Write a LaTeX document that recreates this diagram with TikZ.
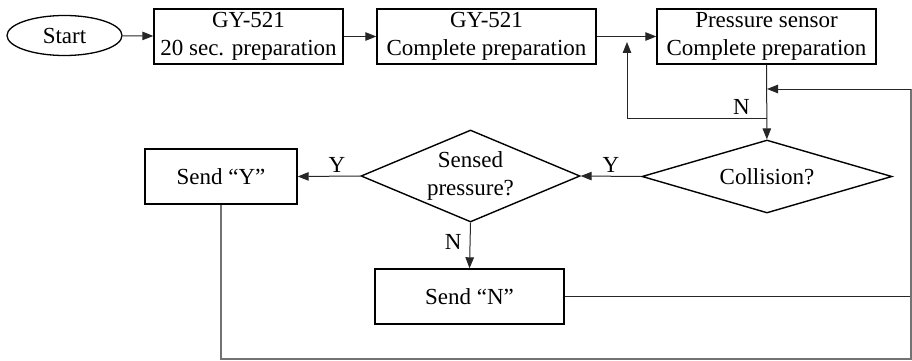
\documentclass[tikz,border=0pt]{standalone}
\usepackage{fontspec}
\setmainfont{Liberation Serif}
\usetikzlibrary{shapes.geometric,arrows.meta}
\tikzset{
  every node/.style={font=\fontsize{23}{27.5}\selectfont},
  term/.style={draw, line width=1.3pt, ellipse, inner sep=0pt,
    minimum width=115pt, minimum height=40pt},
  proc/.style={draw, line width=1.4pt, rectangle, inner sep=0pt, align=center,
    minimum height=55pt},
  decide/.style={draw, line width=1.4pt, diamond, inner sep=0pt, align=center},
  conn/.style={draw=black!85, line width=1pt,
    -{Triangle[length=11pt,width=8.5pt]}},
  plain/.style={draw=black!85, line width=1pt},
  back/.style={draw=black!55, line width=1.2pt},
  lab/.style={inner sep=3pt}
}
\begin{document}
\begin{tikzpicture}[x=1pt,y=-1pt]
\useasboundingbox (0,0) rectangle (912,361);

% top row
\node[term] (start) at (64.5,35.5) {Start};
\node[proc, minimum width=189pt] (gy1) at (248.5,36.5) {GY-521\\20 sec. preparation};
\node[proc, minimum width=219pt] (gy2) at (486.5,36.5) {GY-521\\Complete preparation};
\node[proc, minimum width=219pt] (ps) at (766.5,36.5) {Pressure sensor\\Complete preparation};

% decisions
\node[decide, aspect=3.4, minimum width=250pt, minimum height=73pt] (col) at (767,176.5) {Collision?};
\node[decide, aspect=2.4, minimum width=219pt, minimum height=92pt] (sp) at (470.5,176) {Sensed\\pressure?};

% outputs
\node[proc, minimum width=152pt] (sy) at (221,176.5) {Send “Y”};
\node[proc, minimum width=189pt] (sn) at (469.5,296.5) {Send “N”};

% junctions of the loops
\coordinate (nj) at (767,118);
\coordinate (nup) at (627,42);
\coordinate (br) at (911,359);
\coordinate (tr) at (911,89);
\coordinate (ret) at (767,89);

% main flow
\draw[conn] (start) -- (gy1);
\draw[conn] (gy1) -- (gy2);
\draw[conn] (gy2) -- (ps);
\draw[conn] (ps) -- (col);
\draw[conn] (nj) -| (nup);
\node[lab, anchor=south east, xshift=-14pt] at (nj) {N};
\draw[conn] (col.west) -- node[lab, above] {Y} (sp.east);
\draw[conn] (sp.west) -- node[lab, above, pos=0.375] {Y} (sy.east);
\draw[conn] (sp.south) -- node[lab, left, pos=0.42, inner sep=8pt] {N} (sn.north);

% return paths
\draw[plain] (sn.east) -- (sn.east -| br);
\draw[back] (sy.south) |- (br) -- (tr);
\draw[conn] (tr) -- (ret);
\end{tikzpicture}
\end{document}
